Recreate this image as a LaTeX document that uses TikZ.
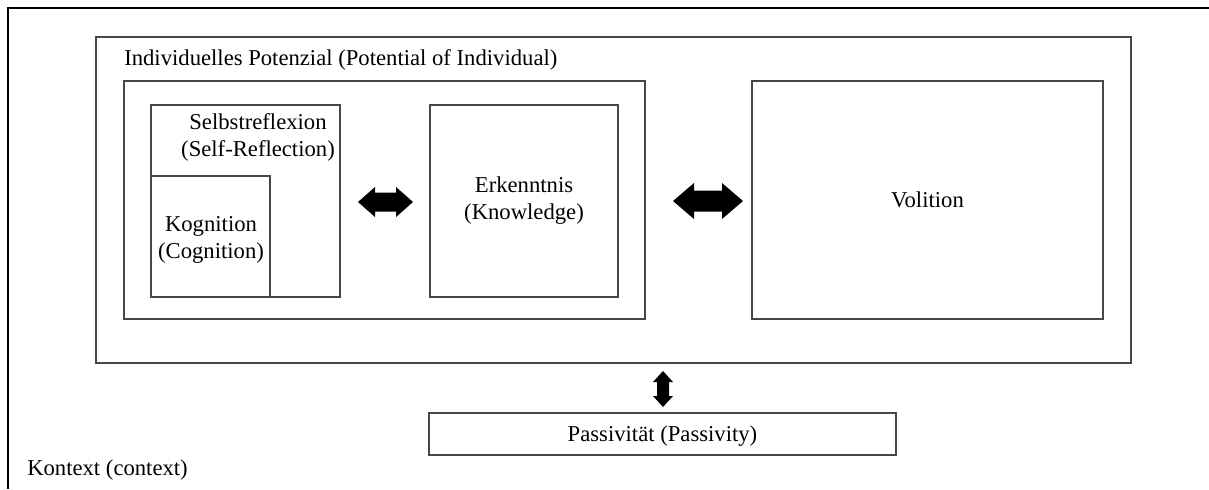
\documentclass[tikz,border=0pt]{standalone}
\usepackage{fontspec}
\setmainfont{Liberation Serif}
\usetikzlibrary{calc}
\begin{document}
\begin{tikzpicture}[x=0.75pt,y=-0.75pt,
  font=\fontsize{17}{20.25}\selectfont,
  box/.style={draw=black!72,line width=1.1pt},
  lbl/.style={inner sep=0pt,align=center},
  blockarrow/.style={fill=black,draw=none}]
\useasboundingbox (0,0) rectangle (1209,489);

% context frame: only top and left edges
\draw[line width=1.4pt] (1209,8) -- (8,8) -- (8,489);
\node[lbl,anchor=base west] (ctx) at (27,475) {Kontext (context)};

% individual potential
\draw[box] (96,37) rectangle (1131,363);
\coordinate (indS) at (663,363);
\node[lbl,anchor=base west] (indlbl) at (124,65) {Individuelles Potenzial (Potential of Individual)};

% inner group
\draw[box] (124,81) rectangle (645,319);
\coordinate (innerE) at (645,201);

% self-reflection with cognition inside
\draw[box] (151,105) rectangle (340,297);
\coordinate (selbE) at (340,202);
\draw[box] (151,176) rectangle (270,297);
\node[lbl] (selblbl) at (258,137) {Selbstreflexion\\(Self-Reflection)};
\node[lbl] (koglbl) at (211,240) {Kognition\\(Cognition)};

% knowledge
\draw[box] (430,105) rectangle (618,297);
\node[lbl] (erklbl) at (524,201) {Erkenntnis\\(Knowledge)};

% volition
\draw[box] (752,81) rectangle (1103,319);
\node[lbl] (vollbl) at (927.5,200) {Volition};

% passivity
\draw[box] (429,413) rectangle (896,455);
\coordinate (pasN) at (663,413);
\node[lbl] (paslbl) at (662.5,436) {Passivität (Passivity)};

% block arrows
\fill[blockarrow] ($(selbE)+(18,0)$) -- ++(17,-15) -- ++(0,5.5) -- ++(21,0) -- ++(0,-5.5)
  -- ++(17,15) -- ++(-17,15) -- ++(0,-5.5) -- ++(-21,0) -- ++(0,5.5) -- cycle;
\fill[blockarrow] ($(innerE)+(28,0)$) -- ++(21,-18) -- ++(0,7.5) -- ++(28,0) -- ++(0,-7.5)
  -- ++(21,18) -- ++(-21,18) -- ++(0,-7.5) -- ++(-28,0) -- ++(0,7.5) -- cycle;
\fill[blockarrow] ($(pasN)+(0,-6)$) -- ++(-10,-11) -- ++(4,0) -- ++(0,-14) -- ++(-4,0)
  -- ++(10,-11) -- ++(10,11) -- ++(-4,0) -- ++(0,14) -- ++(4,0) -- cycle;
\end{tikzpicture}
\end{document}
